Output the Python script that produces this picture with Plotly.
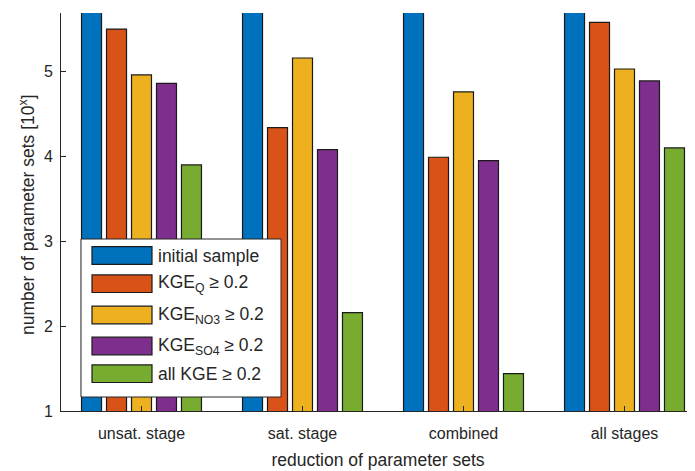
import plotly.graph_objects as go

categories = ["unsat. stage", "sat. stage", "combined", "all stages"]
cat_pos = [1, 2, 3, 4]
series_names = [
    "initial sample",
    "KGE<sub>Q</sub> ≥ 0.2",
    "KGE<sub>NO3</sub> ≥ 0.2",
    "KGE<sub>SO4</sub> ≥ 0.2",
    "all KGE ≥ 0.2",
]
initial_sample = [6.0, 6.0, 6.0, 6.0]
kge_q = [5.50, 4.34, 3.99, 5.58]
kge_no3 = [4.96, 5.16, 4.76, 5.03]
kge_so4 = [4.86, 4.08, 3.95, 4.89]
kge_all = [3.90, 2.16, 1.44, 4.10]
series_values = [initial_sample, kge_q, kge_no3, kge_so4, kge_all]
colors = ["#0072BD", "#D95319", "#EDB120", "#7E2F8E", "#77AC30"]
y_ticks = [1, 2, 3, 4, 5]

# page body has an 8px default margin; compensate so the plot lands where the reference has it
OFF = 8
W, H = 695 - OFF, 471 - OFF
ML, MT = 61 - OFF, 13 - OFF
BOT = 411 - OFF
MR, MB = 0, H - BOT
PW, PH = W - ML - MR, H - MT - MB
AX = "#262626"
FONT = "Liberation Sans, Arial, Helvetica, sans-serif"

fig = go.Figure()
for name, vals, col in zip(series_names, series_values, colors):
    fig.add_trace(go.Bar(x=cat_pos, y=vals, name=name,
                         marker=dict(color=col, line=dict(color="#1a1a1a", width=1.2)),
                         showlegend=False))

unit = 161.0
x_range = [0.5, 0.5 + PW / unit]

fig.update_layout(
    width=W, height=H,
    margin=dict(l=ML, r=MR, t=MT, b=MB, autoexpand=False),
    plot_bgcolor="white", paper_bgcolor="white",
    barmode="group", bargap=0.224, bargroupgap=0.2,
    font=dict(family=FONT, size=16, color=AX),
    xaxis=dict(range=x_range, tickvals=cat_pos, ticktext=categories, showline=True, linecolor=AX, linewidth=1,
               ticks="inside", ticklen=5, tickcolor=AX, showgrid=False, zeroline=False,
               tickfont=dict(size=16, color=AX), ticklabelstandoff=8,
               title=dict(text="reduction of parameter sets", font=dict(size=17.5, color=AX), standoff=12)),
    xaxis2=dict(range=x_range, overlaying="x", side="top", tickvals=cat_pos, showticklabels=False,
                showline=True, linecolor=AX, linewidth=1, ticks="inside", ticklen=5, tickcolor=AX,
                showgrid=False, zeroline=False),
    yaxis=dict(range=[1, 5.69], tickvals=y_ticks, showline=True, linecolor=AX, linewidth=1,
               ticks="inside", ticklen=5, tickcolor=AX, showgrid=False, zeroline=False,
               tickfont=dict(size=16, color=AX), ticklabelstandoff=4),
)

def px_x(p):
    return (p - OFF - ML) / PW
def px_y(p):
    return (BOT - (p - OFF)) / PH

# y-axis title
fig.add_annotation(xref="paper", yref="paper", x=px_x(27), y=px_y(215), text="number of parameter sets [10<sup>x</sup>]",
                   textangle=-90, showarrow=False, xanchor="center", yanchor="middle",
                   font=dict(size=17.5, color=AX))

# custom legend (MATLAB-style wide swatches), positions in reference-window pixels
fig.add_shape(type="rect", xref="paper", yref="paper", x0=px_x(81), x1=px_x(281), y0=px_y(397), y1=px_y(239),
              line=dict(color="#262626", width=1), fillcolor="white", layer="above")
row_centers = [255.5, 283.7, 315.0, 346.0, 373.7]
for name, col, yc in zip(series_names, colors, row_centers):
    fig.add_shape(type="rect", xref="paper", yref="paper", x0=px_x(92), x1=px_x(152),
                  y0=px_y(yc + 8.8), y1=px_y(yc - 8.8), line=dict(color="#1a1a1a", width=1.2),
                  fillcolor=col, layer="above")
    fig.add_annotation(xref="paper", yref="paper", x=px_x(156), y=px_y(yc), text=name, showarrow=False,
                       xanchor="left", yanchor="middle", font=dict(size=17.5, color=AX))

fig.write_html("out.html")
